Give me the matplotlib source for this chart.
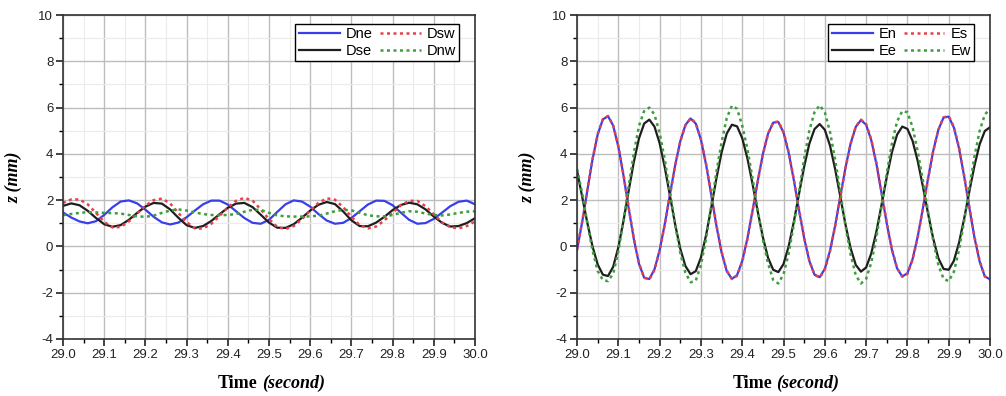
import numpy as np
import matplotlib
matplotlib.use('Agg')
import matplotlib.pyplot as plt
from matplotlib.ticker import MultipleLocator

# sampling times
t_left = np.linspace(29.0, 30.0, 51)
t_right = np.linspace(29.0, 30.0, 81)

# left panel (D*), z in mm
dne = [1.47, 1.25, 1.08, 1.00, 1.09, 1.36, 1.69, 1.94, 1.99, 1.86,
       1.59, 1.28, 1.04, 0.95, 1.03, 1.26, 1.55, 1.82, 1.98, 1.98,
       1.81, 1.52, 1.23, 1.02, 0.98, 1.15, 1.49, 1.82, 1.99, 1.94,
       1.72, 1.40, 1.12, 0.98, 1.02, 1.23, 1.52, 1.81, 1.98, 1.97,
       1.78, 1.46, 1.15, 0.98, 1.01, 1.19, 1.46, 1.74, 1.93, 1.98,
       1.82]
dse = [1.75, 1.86, 1.78, 1.54, 1.23, 0.96, 0.85, 0.92, 1.15, 1.45,
       1.72, 1.88, 1.85, 1.60, 1.24, 0.92, 0.80, 0.88, 1.10, 1.39,
       1.67, 1.85, 1.88, 1.70, 1.37, 1.03, 0.81, 0.80, 0.96, 1.24,
       1.55, 1.80, 1.92, 1.83, 1.51, 1.13, 0.88, 0.87, 1.03, 1.28,
       1.57, 1.79, 1.89, 1.82, 1.60, 1.29, 1.02, 0.86, 0.88, 1.01,
       1.22]
dsw = [1.88, 2.03, 2.03, 1.82, 1.45, 1.06, 0.82, 0.84, 1.08, 1.42,
       1.76, 2.00, 2.07, 1.86, 1.45, 1.05, 0.78, 0.77, 0.98, 1.32,
       1.68, 1.97, 2.10, 1.98, 1.60, 1.18, 0.84, 0.75, 0.88, 1.18,
       1.55, 1.88, 2.08, 2.02, 1.70, 1.28, 0.92, 0.78, 0.86, 1.12,
       1.45, 1.78, 1.97, 1.97, 1.74, 1.38, 1.04, 0.83, 0.78, 0.88,
       1.08]
dnw = [1.35, 1.40, 1.45, 1.48, 1.47, 1.45, 1.44, 1.42, 1.36, 1.30,
       1.28, 1.33, 1.45, 1.55, 1.60, 1.55, 1.47, 1.40, 1.36, 1.35,
       1.36, 1.40, 1.50, 1.58, 1.58, 1.45, 1.34, 1.30, 1.29, 1.29,
       1.30, 1.33, 1.42, 1.52, 1.58, 1.56, 1.45, 1.35, 1.30, 1.30,
       1.36, 1.45, 1.52, 1.50, 1.42, 1.36, 1.34, 1.38, 1.45, 1.50,
       1.52]

# right panel (E*), z in mm
en = [-0.15, 1.06, 2.43, 3.76, 4.84, 5.49, 5.63, 5.22, 4.31, 3.06,
      1.65, 0.32, -0.75, -1.35, -1.41, -0.99, -0.16, 0.97, 2.25, 3.50,
      4.55, 5.25, 5.53, 5.31, 4.61, 3.53, 2.23, 0.89, -0.26, -1.07,
      -1.40, -1.24, -0.63, 0.34, 1.55, 2.82, 3.99, 4.87, 5.35, 5.38,
      4.92, 4.04, 2.86, 1.57, 0.35, -0.63, -1.22, -1.33, -0.97, -0.19,
      0.90, 2.16, 3.40, 4.45, 5.17, 5.46, 5.26, 4.59, 3.56, 2.29,
      0.99, -0.15, -0.95, -1.30, -1.16, -0.55, 0.43, 1.65, 2.94, 4.13,
      5.05, 5.57, 5.61, 5.14, 4.24, 3.02, 1.67, 0.37, -0.66, -1.30,
      -1.42]
es = [-0.12, 1.08, 2.45, 3.78, 4.85, 5.50, 5.64, 5.24, 4.34, 3.10,
      1.69, 0.35, -0.73, -1.35, -1.43, -1.02, -0.19, 0.94, 2.22, 3.48,
      4.54, 5.24, 5.54, 5.33, 4.64, 3.57, 2.27, 0.93, -0.23, -1.05,
      -1.41, -1.27, -0.66, 0.31, 1.52, 2.80, 3.98, 4.87, 5.36, 5.40,
      4.95, 4.08, 2.90, 1.61, 0.38, -0.61, -1.22, -1.35, -1.00, -0.22,
      0.87, 2.13, 3.38, 4.44, 5.17, 5.48, 5.29, 4.62, 3.60, 2.33,
      1.03, -0.12, -0.93, -1.31, -1.19, -0.58, 0.40, 1.62, 2.91, 4.11,
      5.04, 5.58, 5.63, 5.17, 4.28, 3.06, 1.71, 0.41, -0.63, -1.29,
      -1.44]
ee = [3.27, 2.14, 1.01, 0.00, -0.78, -1.22, -1.28, -0.88, -0.04, 1.11,
      2.40, 3.65, 4.67, 5.31, 5.48, 5.18, 4.46, 3.41, 2.19, 0.96,
      -0.10, -0.85, -1.20, -1.07, -0.48, 0.49, 1.68, 2.94, 4.06, 4.88,
      5.26, 5.19, 4.68, 3.81, 2.70, 1.51, 0.40, -0.49, -1.01, -1.11,
      -0.76, 0.01, 1.07, 2.27, 3.45, 4.44, 5.07, 5.29, 5.04, 4.36,
      3.34, 2.15, 0.95, -0.08, -0.80, -1.09, -0.91, -0.30, 0.65, 1.81,
      3.00, 4.07, 4.83, 5.18, 5.08, 4.56, 3.69, 2.59, 1.42, 0.34,
      -0.51, -0.97, -1.01, -0.62, 0.16, 1.21, 2.38, 3.50, 4.42, 4.99,
      5.15]
ew = [3.35, 2.30, 1.00, -0.17, -1.06, -1.45, -1.50, -1.18, -0.21, 1.11,
      2.60, 4.03, 5.21, 5.85, 6.00, 5.70, 4.90, 3.75, 2.35, 0.94,
      -0.28, -1.14, -1.55, -1.48, -0.80, 0.33, 1.77, 3.22, 4.50, 5.55,
      6.08, 5.95, 5.22, 4.22, 2.94, 1.57, 0.30, -0.73, -1.45, -1.60,
      -1.20, -0.30, 0.95, 2.35, 3.80, 5.00, 5.80, 6.10, 5.80, 4.95,
      3.75, 2.35, 0.90, -0.35, -1.25, -1.60, -1.40, -0.70, 0.40, 1.75,
      3.15, 4.45, 5.40, 5.85, 5.80, 5.15, 4.10, 2.85, 1.50, 0.25,
      -0.80, -1.40, -1.50, -1.10, -0.15, 1.10, 2.55, 3.90, 5.00, 5.70,
      5.95]

BLUE = '#3a3ee8'
RED = '#e8404a'
BLACK = '#1e1e1e'
GREEN = '#3e9e3e'
DOT = (0, (1.2, 1.4))

plt.rcParams['font.family'] = ['Liberation Sans', 'DejaVu Sans']
plt.rcParams['axes.unicode_minus'] = False


def style_axes(ax):
    """
    Axis limits, ticks, grid and labels in the Origin look
    """
    ax.set_xlim(29.0, 30.0)
    ax.set_ylim(-4, 10)
    ax.xaxis.set_major_locator(MultipleLocator(0.1))
    ax.xaxis.set_minor_locator(MultipleLocator(0.05))
    ax.yaxis.set_major_locator(MultipleLocator(2))
    ax.yaxis.set_minor_locator(MultipleLocator(1))
    ax.xaxis.set_major_formatter(matplotlib.ticker.FormatStrFormatter('%.1f'))
    ax.tick_params(which='major', direction='out', length=5, width=1.2,
                   labelsize=9.5, pad=2, colors='#222222')
    ax.tick_params(which='minor', direction='out', length=3, width=1.0)
    ax.grid(which='major', color='#bdbdbd', lw=1.0)
    ax.grid(which='minor', color='#ebebeb', lw=0.8)
    ax.set_axisbelow(True)
    for s in ax.spines.values():
        s.set_linewidth(1.2)
        s.set_color('#333333')

    serif = 'Liberation Serif'
    t1 = ax.text(0.473, -0.136, "Time", transform=ax.transAxes, ha='right',
                 va='center', family=serif, weight='bold', size=13)
    ax.annotate("(second)", xy=(1, 0), xycoords=t1, xytext=(3, 0),
                textcoords='offset points', ha='left', va='bottom',
                family=serif, weight='bold', style='italic', size=13)
    ax.set_ylabel("z (mm)", family=serif, weight='bold', style='italic',
                  size=13)
    ax.yaxis.set_label_coords(-0.097, 0.5)


def legend(ax):
    leg = ax.legend(ncol=2, loc='upper right', bbox_to_anchor=(0.962, 0.973),
                    fontsize=10.5, frameon=True, fancybox=False, framealpha=1,
                    edgecolor='black', borderpad=0.25, handlelength=2.8,
                    handletextpad=0.4, columnspacing=0.5, labelspacing=0.15,
                    borderaxespad=0)
    leg.get_frame().set_linewidth(1.0)


def main():
    fig = plt.figure(figsize=(10.06, 3.96), dpi=100)
    ax1 = fig.add_axes([0.0626, 0.144, 0.4096, 0.818])
    ax2 = fig.add_axes([0.5736, 0.144, 0.4105, 0.818])

    ax1.plot(t_left, dne, c=BLUE, lw=1.6, label="Dne")
    ax1.plot(t_left, dse, c=BLACK, lw=1.6, label="Dse")
    ax1.plot(t_left, dsw, c=RED, lw=1.8, ls=DOT, label="Dsw")
    ax1.plot(t_left, dnw, c=GREEN, lw=1.8, ls=DOT, label="Dnw")
    style_axes(ax1)
    legend(ax1)

    ax2.plot(t_right, en, c=BLUE, lw=1.6, label="En")
    ax2.plot(t_right, ee, c=BLACK, lw=1.6, label="Ee")
    ax2.plot(t_right, es, c=RED, lw=1.8, ls=DOT, label="Es")
    ax2.plot(t_right, ew, c=GREEN, lw=1.8, ls=DOT, label="Ew")
    style_axes(ax2)
    legend(ax2)

    fig.savefig('out.png', dpi=100)


if __name__ == "__main__":
    main()
